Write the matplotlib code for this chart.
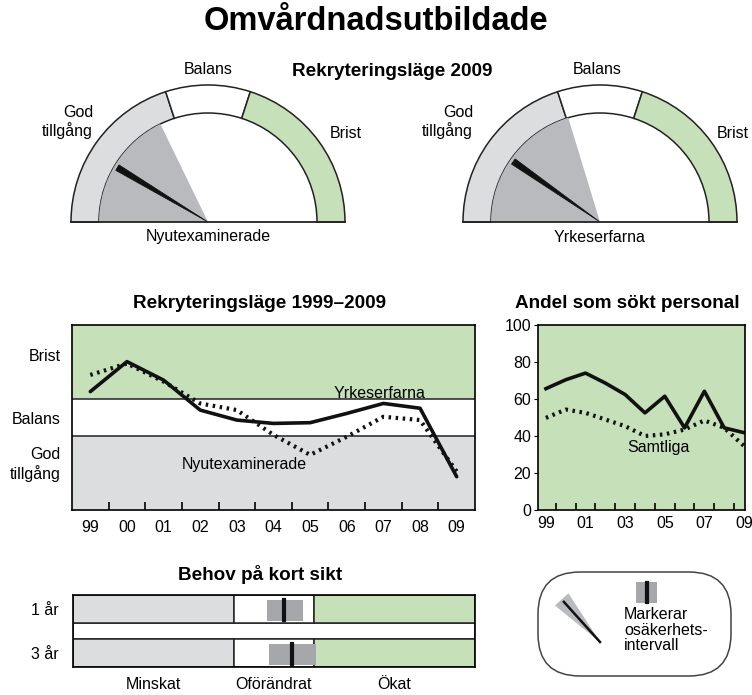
import numpy as np
import matplotlib
matplotlib.use("Agg")
import matplotlib.pyplot as plt
from matplotlib.patches import Wedge, Polygon, FancyBboxPatch, Rectangle

plt.rcParams['font.family'] = ['Liberation Sans', 'DejaVu Sans']
plt.rcParams['font.size'] = 11.5

# ---- data ----
# common scale: 0-2 God tillgång, 2-3 Balans, 3-5 Brist
zone_names = ['God\ntillgång', 'Balans', 'Brist']
zone_edges = [0, 2, 3, 5]

# gauges 2009: needle value and uncertainty interval
gauge_names = ['Nyutexaminerade', 'Yrkeserfarna']
gauge_value = [0.86, 0.97]
gauge_low = [0.0, 0.0]
gauge_high = [1.78, 2.03]

# Rekryteringsläge 1999-2009
year_labels = ['99', '00', '01', '02', '03', '04', '05', '06', '07', '08', '09']
yrkeserfarna = [3.20, 4.01, 3.51, 2.70, 2.43, 2.34, 2.36, 2.61, 2.88, 2.75, 0.90]
nyutexaminerade = [3.65, 3.96, 3.47, 2.88, 2.70, 2.03, 1.49, 1.98, 2.52, 2.43, 1.04]

# Andel som sökt personal (%)
years = list(range(1999, 2010))
andel_grupp = [65.6, 70.4, 74.0, 68.6, 62.4, 52.5, 61.5, 44.4, 64.2, 44.4, 41.8]
andel_samtliga = [49.8, 54.3, 52.5, 48.9, 45.3, 40.0, 40.9, 43.5, 48.4, 44.4, 34.6]

# Behov på kort sikt
behov_rows = ['1 år', '3 år']
behov_zones = ['Minskat', 'Oförändrat', 'Ökat']
behov_value = [2.62, 2.73]
behov_low = [2.41, 2.44]
behov_high = [2.86, 3.02]

GREEN = '#c6e0b9'
LGRAY = '#dcdddf'
MGRAY = '#b9babe'
DGRAY = '#a6a7ab'
zone_colors = [LGRAY, 'white', GREEN]
FS = 11.5
TFS = 13.6

W, H = 752, 695
fig = plt.figure(figsize=(W / 100, H / 100), dpi=100)


def px_axes(x0, y0, x1, y1):
    return fig.add_axes([x0 / W, 1 - y1 / H, (x1 - x0) / W, (y1 - y0) / H])


def ang(v):
    return 180 - v * 36.0


fig.text(376 / W, 1 - 22 / H, 'Omvårdnadsutbildade', ha='center', va='center',
         fontsize=23.5, fontweight='bold')
fig.text(392 / W, 1 - 72 / H, 'Rekryteringsläge 2009', ha='center', va='center',
         fontsize=TFS, fontweight='bold')

# ---- gauges ----
centers = [208, 600]
label_pos = [dict(god=(-115, 100), bal=(0, 152), bri=(122, 89)),
             dict(god=(-127, 100), bal=(-3, 152), bri=(117, 89))]
r_out, r_in = 137, 109
for i, cx in enumerate(centers):
    ax = px_axes(cx - 150, 55, cx + 155, 250)
    ax.set_xlim(-150, 155)
    ax.set_ylim(-28, 167)
    ax.axis('off')
    for k in range(3):
        ax.add_patch(Wedge((0, 0), r_out, ang(zone_edges[k + 1]), ang(zone_edges[k]),
                           width=r_out - r_in, facecolor=zone_colors[k],
                           edgecolor='#222222', lw=1.1))
    ax.add_patch(Wedge((0, 0), r_in, ang(gauge_high[i]), ang(gauge_low[i]),
                       facecolor=MGRAY, edgecolor='none'))
    a = np.radians(ang(gauge_value[i]))
    perp = a + np.pi / 2
    tip = r_in * 0.97
    w = 3.2
    pts = [(0, 0),
           (tip * np.cos(a) + w * np.cos(perp), tip * np.sin(a) + w * np.sin(perp)),
           (tip * np.cos(a) - w * np.cos(perp), tip * np.sin(a) - w * np.sin(perp))]
    ax.add_patch(Polygon(pts, closed=True, facecolor='#111111', edgecolor='#111111', lw=0.5))
    ax.plot([-r_out, r_out], [0, 0], color='#222222', lw=1.3)
    lp = label_pos[i]
    ax.text(*lp['god'], 'God\ntillgång', ha='right', va='center', fontsize=FS, linespacing=1.2)
    ax.text(*lp['bal'], 'Balans', ha='center', va='center', fontsize=FS)
    ax.text(*lp['bri'], 'Brist', ha='left', va='center', fontsize=FS)
    ax.text(0, -15, gauge_names[i], ha='center', va='center', fontsize=FS)

# ---- Rekryteringsläge 1999-2009 ----
ax = px_axes(72, 325, 475, 510)
x = np.arange(len(year_labels)) + 0.5
for k in range(3):
    ax.axhspan(zone_edges[k], zone_edges[k + 1], facecolor=zone_colors[k], edgecolor='none')
for e in zone_edges[1:3]:
    ax.axhline(e, color='#222222', lw=1.1)
ax.plot(x, yrkeserfarna, color='#111111', lw=2.6, solid_capstyle='round')
ax.plot(x, nyutexaminerade, color='#111111', lw=3, linestyle=(0, (0.6, 1.1)))
ax.set_xlim(0, len(year_labels))
ax.set_ylim(0, 5)
ax.set_xticks(np.arange(1, len(year_labels)))
ax.set_xticklabels([])
ax.set_xticks(x, minor=True)
ax.set_xticklabels(year_labels, minor=True)
ax.tick_params(axis='x', which='major', direction='in', length=6, width=1.2)
ax.tick_params(axis='x', which='minor', length=0, pad=7, labelsize=FS)
ax.set_yticks([1.3, 2.5, 4.2])
ax.set_yticklabels(zone_names)
ax.tick_params(axis='y', length=0, pad=8, labelsize=FS)
for t in ax.get_yticklabels():
    t.set_linespacing(1.2)
for s in ax.spines.values():
    s.set_linewidth(1.2)
ax.text(8.4, 3.15, 'Yrkeserfarna', ha='center', va='center', fontsize=FS)
ax.text(4.7, 1.22, 'Nyutexaminerade', ha='center', va='center', fontsize=FS)
fig.text(260 / W, 1 - 303 / H, 'Rekryteringsläge 1999–2009', ha='center', va='center',
         fontsize=TFS, fontweight='bold')

# ---- Andel som sökt personal ----
ax = px_axes(538, 325, 745, 510)
ax.set_facecolor(GREEN)
ax.plot(years, andel_grupp, color='#111111', lw=2.6)
ax.plot(years, andel_samtliga, color='#111111', lw=3, linestyle=(0, (0.6, 1.1)))
ax.set_xlim(1998.6, 2009.05)
ax.set_ylim(0, 100)
ax.set_yticks(range(0, 101, 20))
ax.tick_params(axis='y', direction='out', length=3, pad=2, labelsize=FS)
ax.set_xticks(np.arange(1999.5, 2009, 1.0))
ax.set_xticklabels([])
ax.set_xticks(years[::2], minor=True)
ax.set_xticklabels(year_labels[::2], minor=True)
ax.tick_params(axis='x', which='major', direction='in', length=5, width=1.2)
ax.tick_params(axis='x', which='minor', length=0, pad=4, labelsize=FS)
for s in ax.spines.values():
    s.set_linewidth(1.2)
ax.text(2004.7, 34, 'Samtliga', ha='center', va='center', fontsize=FS)
fig.text(627 / W, 1 - 303 / H, 'Andel som sökt personal', ha='center', va='center',
         fontsize=TFS, fontweight='bold')

# ---- Behov på kort sikt ----
ax = px_axes(73, 595, 475, 667)
row_y = [14, 58]
row_h = 28
ax.barh(36, zone_edges[-1], height=16, left=0, color='white', edgecolor='#222222', lw=1.1)
for r, yc in enumerate(row_y):
    for k in range(3):
        ax.barh(yc, zone_edges[k + 1] - zone_edges[k], height=row_h, left=zone_edges[k],
                color=zone_colors[k], edgecolor='#222222', lw=1.1)
    ax.barh(yc + 1, behov_high[r] - behov_low[r], height=21, left=behov_low[r],
            color=DGRAY, edgecolor='none')
    ax.plot([behov_value[r]] * 2, [yc - 9, yc + 11], color='#111111', lw=3)
ax.set_xlim(0, 5)
ax.set_ylim(72, 0)
ax.set_yticks(row_y)
ax.set_yticklabels(behov_rows)
ax.set_xticks([1, 2.5, 4])
ax.set_xticklabels(behov_zones)
ax.tick_params(axis='both', length=0, labelsize=FS)
ax.tick_params(axis='x', pad=7)
ax.tick_params(axis='y', pad=10)
for s in ax.spines.values():
    s.set_linewidth(1.2)
fig.text(260 / W, 1 - 575 / H, 'Behov på kort sikt', ha='center', va='center',
         fontsize=TFS, fontweight='bold')

# ---- legend ----
ax = px_axes(530, 565, 742, 688)
ax.set_xlim(530, 742)
ax.set_ylim(688, 565)
ax.axis('off')
ax.add_patch(FancyBboxPatch((538, 572), 193, 104, boxstyle='round,pad=0,rounding_size=42',
                            facecolor='white', edgecolor='#444444', lw=1.1))
base = np.array([600, 642])
a = np.radians(132)
L = 58
da = np.radians(9)
p1 = base + L * np.array([np.cos(a - da), -np.sin(a - da)])
p2 = base + L * np.array([np.cos(a + da), -np.sin(a + da)])
ax.add_patch(Polygon([base, p1, p2], closed=True, facecolor=MGRAY, edgecolor='none'))
tip = base + (L - 4) * np.array([np.cos(a), -np.sin(a)])
ax.plot([base[0], tip[0]], [base[1], tip[1]], color='#111111', lw=1.8)
ax.add_patch(Rectangle((636, 582), 21, 21, facecolor=DGRAY, edgecolor='none'))
ax.plot([646.5, 646.5], [583, 602], color='#111111', lw=3)
ax.text(624, 607, 'Markerar\nosäkerhets-\nintervall', ha='left', va='top', fontsize=FS,
        linespacing=1.05)

fig.savefig('out.png', dpi=100)
